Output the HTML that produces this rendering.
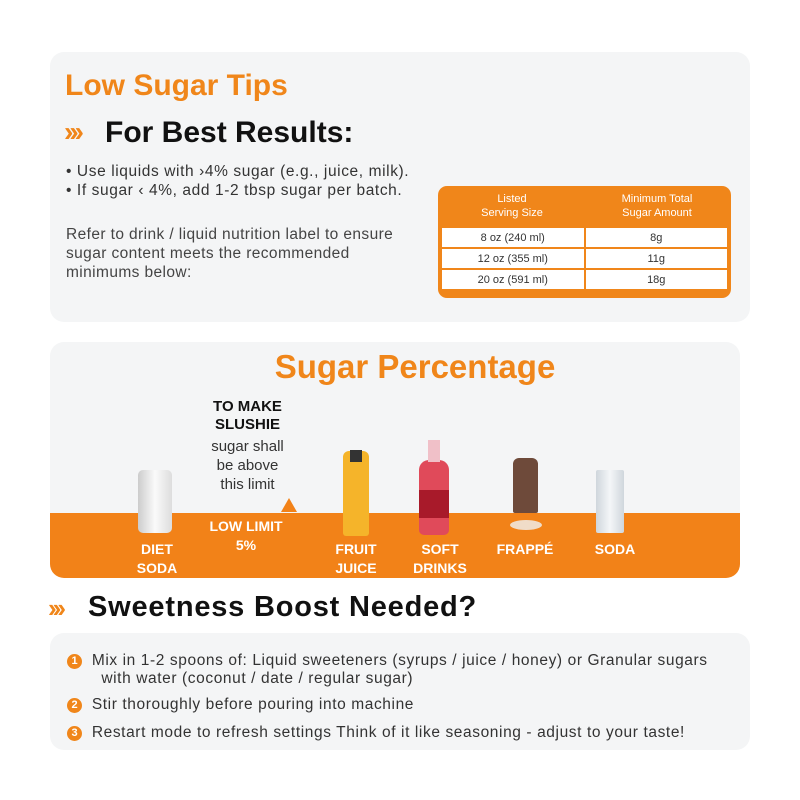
<!DOCTYPE html><html><head><style>
body{margin:0;width:800px;height:800px;background:#fff;font-family:"Liberation Sans",sans-serif;position:relative;overflow:hidden}
.a{position:absolute}
.card{position:absolute;background:#f4f5f6;border-radius:14px}
.or{color:#f0861a}
.w{color:#fff;font-weight:bold;font-size:14px;text-align:center;line-height:19px}
td{border:2px solid #f0861a;background:#fff;text-align:center;font-size:11px;color:#333;height:19px;padding:0;width:50%}
.n{display:inline-block;width:15px;height:15px;border-radius:50%;background:#f0861a;color:#fff;font-size:11px;text-align:center;line-height:15px;font-weight:bold;letter-spacing:0;vertical-align:1px}
</style></head><body>
<div class="card" style="left:50px;top:52px;width:700px;height:270px"></div>
<div class="a or" style="left:65px;top:69px;font-size:30px;font-weight:bold">Low Sugar Tips</div>
<div class="a or" style="left:64px;top:116px;font-size:28px;font-weight:bold;letter-spacing:-4px">›››</div>
<div class="a" style="left:105px;top:116px;font-size:30px;font-weight:bold;color:#111">For Best Results:</div>
<div class="a" style="left:66px;top:162px;font-size:15.5px;letter-spacing:0.6px;color:#333;line-height:19px">• Use liquids with ›4% sugar (e.g., juice, milk).<br>• If sugar ‹ 4%, add 1-2 tbsp sugar per batch.</div>
<div class="a" style="left:66px;top:225px;font-size:15.5px;letter-spacing:0.4px;color:#444;line-height:19px">Refer to drink / liquid nutrition label to ensure<br>sugar content meets the recommended<br>minimums below:</div>
<div class="a" style="left:438px;top:186px;width:293px;height:112px;background:#f0861a;border-radius:9px"></div>
<div class="a" style="left:440px;top:192px;width:144px;color:#fff;font-size:11px;text-align:center;line-height:14px">Listed<br>Serving Size</div>
<div class="a" style="left:586px;top:192px;width:142px;color:#fff;font-size:11px;text-align:center;line-height:14px">Minimum Total<br>Sugar Amount</div>
<table class="a" style="left:440px;top:226px;width:289px;border-collapse:collapse;table-layout:fixed">
<tr><td>8 oz (240 ml)</td><td>8g</td></tr><tr><td>12 oz (355 ml)</td><td>11g</td></tr><tr><td>20 oz (591 ml)</td><td>18g</td></tr></table>

<div class="card" style="left:50px;top:342px;width:690px;height:236px;overflow:hidden">
<div class="a" style="left:0;top:171px;width:690px;height:65px;background:#f28218"></div></div>
<div class="a or" style="left:50px;top:348px;width:690px;text-align:center;font-size:33px;font-weight:bold;padding-left:40px;box-sizing:border-box">Sugar Percentage</div>
<div class="a" style="left:190px;top:398px;width:115px;text-align:center;font-size:15px;font-weight:bold;color:#111;line-height:18px">TO MAKE<br>SLUSHIE</div>
<div class="a" style="left:190px;top:437px;width:115px;text-align:center;font-size:15px;color:#333;line-height:19px">sugar shall<br>be above<br>this limit</div>
<div class="a" style="left:281px;top:498px;width:0;height:0;border-left:8px solid transparent;border-right:8px solid transparent;border-bottom:14px solid #f28218"></div>
<div class="a w" style="left:196px;top:517px;width:100px">LOW LIMIT<br>5%</div>
<div class="a w" style="left:127px;top:540px;width:60px">DIET<br>SODA</div>
<div class="a w" style="left:326px;top:540px;width:60px">FRUIT<br>JUICE</div>
<div class="a w" style="left:405px;top:540px;width:70px">SOFT<br>DRINKS</div>
<div class="a w" style="left:490px;top:540px;width:70px">FRAPPÉ</div>
<div class="a w" style="left:585px;top:540px;width:60px">SODA</div>
<div class="a" style="left:138px;top:470px;width:34px;height:63px;background:linear-gradient(90deg,#ccc,#fafafa,#ddd);border-radius:5px"></div>
<div class="a" style="left:343px;top:451px;width:26px;height:85px;background:#f5b42a;border-radius:6px 6px 3px 3px"></div>
<div class="a" style="left:350px;top:450px;width:12px;height:12px;background:#333"></div>
<div class="a" style="left:419px;top:460px;width:30px;height:75px;background:#e04a5a;border-radius:10px 10px 5px 5px"></div>
<div class="a" style="left:419px;top:490px;width:30px;height:28px;background:#a81a2a"></div>
<div class="a" style="left:428px;top:440px;width:12px;height:22px;background:#f0c0c8"></div>
<div class="a" style="left:513px;top:458px;width:25px;height:55px;background:#6e4a3a;border-radius:6px 6px 2px 2px"></div>
<div class="a" style="left:510px;top:520px;width:32px;height:10px;background:#f0dcc8;border-radius:50%"></div>
<div class="a" style="left:596px;top:470px;width:28px;height:63px;background:linear-gradient(90deg,#cfd6dc,#f4f6f8,#cfd6dc);border-radius:2px"></div>

<div class="a or" style="left:48px;top:593px;font-size:26px;font-weight:bold;letter-spacing:-4px">›››</div>
<div class="a" style="left:88px;top:591px;font-size:29px;font-weight:bold;color:#111;letter-spacing:0.8px">Sweetness Boost Needed?</div>
<div class="card" style="left:50px;top:633px;width:700px;height:117px"></div>
<div class="a" style="left:67px;top:652px;font-size:15.5px;letter-spacing:0.6px;color:#333;line-height:18px">
<span class="n">1</span>&nbsp; Mix in 1-2 spoons of: Liquid sweeteners (syrups / juice / honey) or Granular sugars<br>&nbsp;&nbsp;&nbsp;&nbsp;&nbsp;&nbsp;&nbsp;with water (coconut / date / regular sugar)</div>
<div class="a" style="left:67px;top:696px;font-size:15.5px;letter-spacing:0.6px;color:#333"><span class="n">2</span>&nbsp; Stir thoroughly before pouring into machine</div>
<div class="a" style="left:67px;top:724px;font-size:15.5px;letter-spacing:0.6px;color:#333"><span class="n">3</span>&nbsp; Restart mode to refresh settings Think of it like seasoning - adjust to your taste!</div>
</body></html>
